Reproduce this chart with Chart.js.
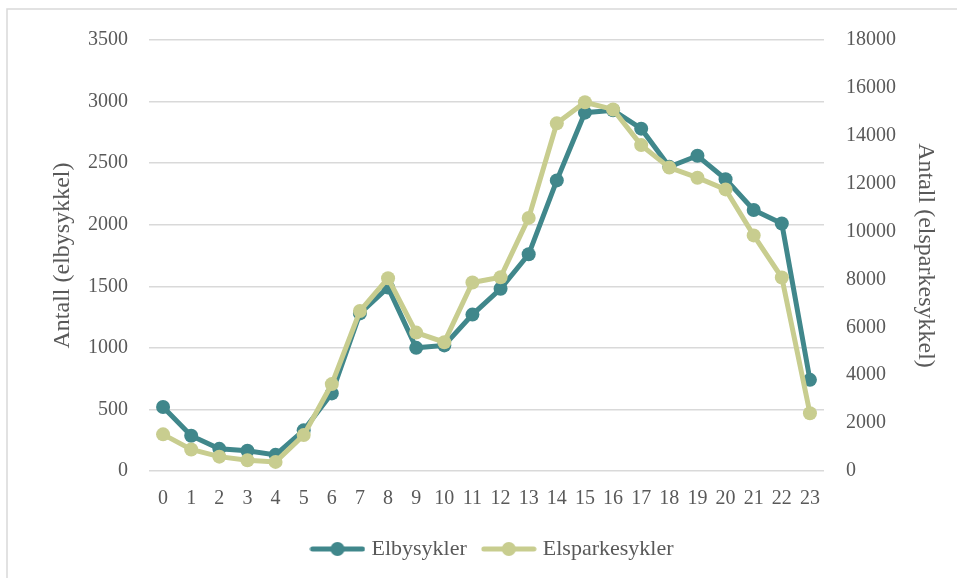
<!DOCTYPE html>
<html>
<head>
<meta charset="utf-8">
<script src="https://cdn.jsdelivr.net/npm/chart.js@4"></script>
<style>
  html, body { margin: 0; padding: 0; background: #fff; }
  #wrap { width: 957px; height: 578px; }
</style>
</head>
<body>
<div id="wrap"><canvas id="hourChart" width="957" height="578"></canvas></div>
<script>
const hours = ['0','1','2','3','4','5','6','7','8','9','10','11','12','13','14','15','16','17','18','19','20','21','22','23'];
const elbysykler = [520, 286, 180, 164, 131, 330, 630, 1280, 1490, 1000, 1020, 1270, 1480, 1760, 2360, 2910, 2930, 2780, 2470, 2560, 2370, 2120, 2010, 740];
const elsparkesykler = [1530, 900, 600, 450, 380, 1500, 3630, 6680, 8050, 5780, 5380, 7870, 8090, 10570, 14520, 15400, 15100, 13610, 12670, 12250, 11760, 9840, 8080, 2410];

const teal = '#40878b';
const sage = '#c8cd8f';
const textGray = '#595959';
const family = '"Liberation Serif", "DejaVu Serif", serif';
const font = { family: family, size: 20 };

// little line-with-dot marker for the legend
function legendMarker(color) {
    const c = document.createElement('canvas');
    c.width = 56; c.height = 16;
    const g = c.getContext('2d');
    g.strokeStyle = color;
    g.lineWidth = 5;
    g.lineCap = 'round';
    g.beginPath(); g.moveTo(3, 8); g.lineTo(53, 8); g.stroke();
    g.fillStyle = color;
    g.beginPath(); g.arc(28, 8, 7, 0, Math.PI * 2); g.fill();
    return c;
}

const frame = {
    id: 'frame',
    beforeDraw(chart) {
        const ctx = chart.ctx;
        ctx.save();
        ctx.strokeStyle = '#d9d9d9';
        ctx.lineWidth = 1.5;
        ctx.strokeRect(7, 9, 1000, 1000);
        ctx.restore();
    }
};

new Chart(document.getElementById('hourChart'), {
    type: 'line',
    data: {
        labels: hours,
        datasets: [{
            label: 'Elbysykler',
            data: elbysykler,
            yAxisID: 'y',
            borderColor: teal,
            backgroundColor: teal,
            borderWidth: 5,
            pointRadius: 7,
            pointBackgroundColor: teal,
            pointBorderWidth: 0,
            order: 1,
            fill: false,
        }, {
            label: 'Elsparkesykler',
            data: elsparkesykler,
            yAxisID: 'y2',
            borderColor: sage,
            backgroundColor: sage,
            borderWidth: 5,
            pointRadius: 7,
            pointBackgroundColor: sage,
            pointBorderWidth: 0,
            order: 0,
            fill: false,
        }]
    },
    options: {
        responsive: false,
        animation: false,
        layout: { padding: { left: 48, right: 17, top: 40, bottom: 8 } },
        plugins: {
            tooltip: { enabled: false },
            legend: {
                position: 'bottom',
                labels: {
                    color: textGray,
                    font: { family: family, size: 22 },
                    usePointStyle: true,
                    pointStyleWidth: 46,
                    boxHeight: 16,
                    padding: 19,
                    generateLabels(chart) {
                        return chart.data.datasets.map((ds, i) => ({
                            text: ds.label,
                            fillStyle: ds.borderColor,
                            strokeStyle: ds.borderColor,
                            fontColor: textGray,
                            pointStyle: legendMarker(ds.borderColor),
                            datasetIndex: i,
                            hidden: false,
                        }));
                    }
                }
            }
        },
        scales: {
            x: {
                offset: true,
                grid: { display: false },
                border: { display: false },
                ticks: { color: textGray, font: font, padding: 8, maxRotation: 0, autoSkip: false }
            },
            y: {
                position: 'left',
                min: 0, max: 3500,
                ticks: { stepSize: 500, color: textGray, font: font, padding: 21, callback: v => String(v) },
                grid: { color: '#d9d9d9', lineWidth: 1.5, drawTicks: false },
                border: { display: false },
                title: { display: true, text: 'Antall (elbysykkel)', color: textGray, font: { family: family, size: 24 }, padding: 0 },
                afterFit(scale) { scale.width = 101; }
            },
            y2: {
                position: 'right',
                min: 0, max: 18000,
                ticks: { stepSize: 2000, color: textGray, font: font, padding: 22, callback: v => String(v) },
                grid: { display: false, drawTicks: false },
                border: { display: false },
                title: { display: true, text: 'Antall (elsparkesykkel)', color: textGray, font: { family: family, size: 24 }, padding: 0 },
                afterFit(scale) { scale.width = 116; }
            }
        }
    },
    plugins: [frame]
});
</script>
</body>
</html>
